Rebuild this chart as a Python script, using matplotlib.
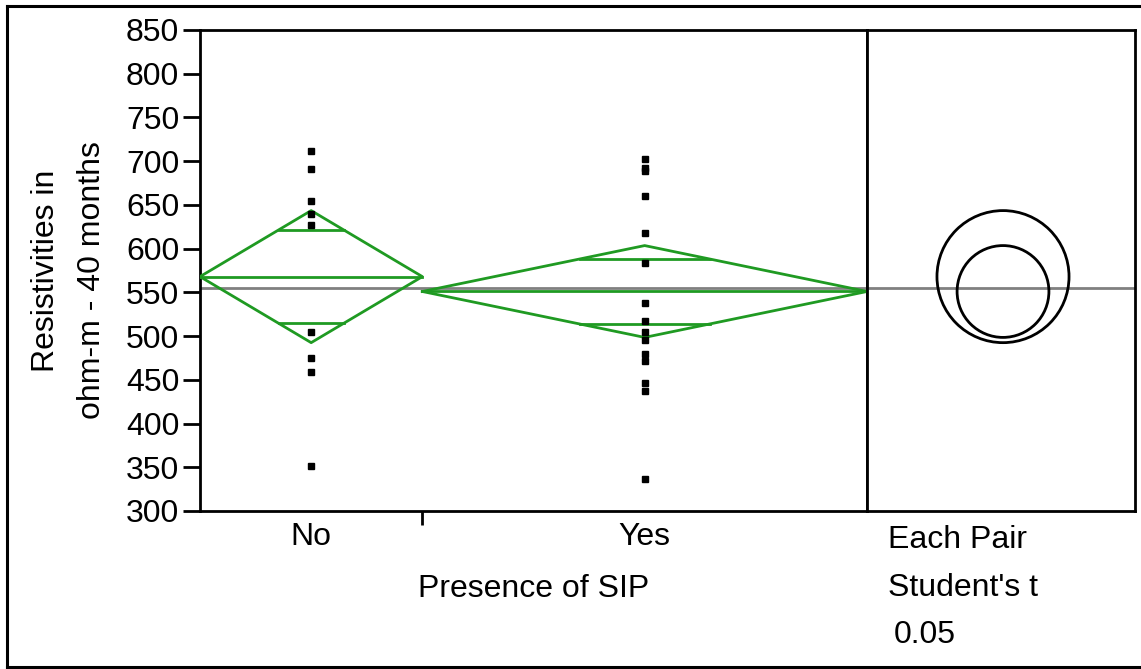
import numpy as np
import matplotlib.pyplot as plt
from matplotlib.patches import Circle

plt.rcParams['font.family'] = ['Liberation Sans', 'DejaVu Sans']

# --------------------
# Data
# --------------------
groups = ["No", "Yes"]
group_sizes = [1, 2]          # relative x-widths of the groups
no_points = [712, 691, 654, 640, 627, 505, 475, 459, 352]
yes_points = [703, 692, 689, 660, 618, 584, 538, 517, 505, 496, 479, 471, 446, 437, 337]
group_means = [568, 551]
ci_half = [75.5, 52.5]
grand_mean = 555

GREEN = "#1f9a22"
GRAY = "#808080"
W, H = 1141, 669
FS = 23
LW = 2.0

fig = plt.figure(figsize=(W / 100, H / 100), dpi=100)

# axes placed in pixel coordinates
L, R, T, B = 200, 867, 30, 511
R2 = 1135
ax = fig.add_axes([L / W, 1 - B / H, (R - L) / W, (B - T) / H])
ax2 = fig.add_axes([R / W, 1 - B / H, (R2 - R) / W, (B - T) / H], sharey=ax)

ylo, yhi = 300, 850
ax.set_ylim(ylo, yhi)
ax.set_xlim(0, sum(group_sizes))

# --------------------
# Means diamonds
# --------------------
edges = np.concatenate([[0], np.cumsum(group_sizes)])
for i, pts in enumerate([no_points, yes_points]):
    x0, x1 = edges[i], edges[i + 1]
    xc = (x0 + x1) / 2
    m, h = group_means[i], ci_half[i]
    ax.plot([x0, xc, x1, xc, x0], [m, m + h, m, m - h, m], color=GREEN, lw=LW, zorder=3)
    ax.plot([x0, x1], [m, m], color=GREEN, lw=LW, zorder=3)
    # overlap marks
    d = h / np.sqrt(2)
    half_w = (x1 - x0) / 2 * (1 - d / h)
    for yy in (m + d, m - d):
        ax.plot([xc - half_w, xc + half_w], [yy, yy], color=GREEN, lw=LW, zorder=3)
    ax.plot([xc] * len(pts), pts, ls="none", marker="s", ms=3.8, color="black", zorder=4)

ax.axhline(grand_mean, color=GRAY, lw=LW, zorder=2)

ax.set_yticks(np.arange(300, 851, 50))
ax.tick_params(axis="y", length=12, width=LW, labelsize=FS, pad=3)
centers = [(edges[i] + edges[i + 1]) / 2 for i in range(len(groups))]
ax.set_xticks(centers)
ax.set_xticklabels(groups)
ax.tick_params(axis="x", which="major", length=0, labelsize=FS, pad=8)
ax.set_xticks(edges[1:-1], minor=True)
ax.tick_params(axis="x", which="minor", length=10, width=LW)
ax.set_xlabel("Presence of SIP", fontsize=FS, labelpad=16)
for s in ax.spines.values():
    s.set_linewidth(LW)

# y label as two lines
fig.text(46 / W, 1 - 271 / H, "Resistivities in", rotation=90, fontsize=FS,
         ha="center", va="center")
fig.text(92 / W, 1 - 280 / H, "ohm-m - 40 months", rotation=90, fontsize=FS,
         ha="center", va="center")

# --------------------
# Comparison circles
# --------------------
px_per_unit = (B - T) / (yhi - ylo)
ax2.set_xlim(0, (R2 - R) / px_per_unit)
cx = (1003 - R) / px_per_unit
for m, h in zip(group_means, ci_half):
    ax2.add_patch(Circle((cx, m), h, fill=False, ec="black", lw=LW, zorder=3))
ax2.axhline(grand_mean, color=GRAY, lw=LW, zorder=2)
ax2.tick_params(left=False, labelleft=False, bottom=False, labelbottom=False)
for s in ax2.spines.values():
    s.set_linewidth(LW)

fig.text(888 / W, 1 - 540 / H, "Each Pair", fontsize=FS, ha="left", va="center")
fig.text(888 / W, 1 - 588 / H, "Student's t", fontsize=FS, ha="left", va="center")
fig.text(894 / W, 1 - 635 / H, "0.05", fontsize=FS, ha="left", va="center")

# outer frame
fig.add_artist(plt.Line2D([7 / W, 7 / W], [1 - 6 / H, 1 - 667 / H], color="black", lw=2.2))
fig.add_artist(plt.Line2D([7 / W, 1], [1 - 6 / H, 1 - 6 / H], color="black", lw=2.2))
fig.add_artist(plt.Line2D([7 / W, 1], [1 - 667 / H, 1 - 667 / H], color="black", lw=2.2))

fig.savefig("out.png", dpi=100)
